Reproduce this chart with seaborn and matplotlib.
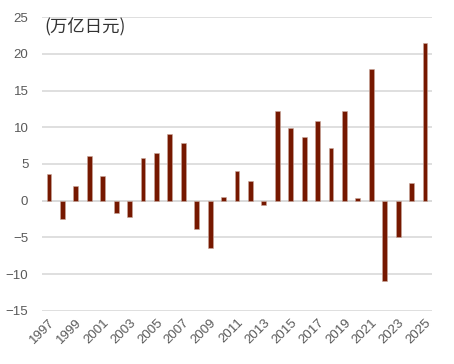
import pandas as pd
import matplotlib
matplotlib.use("Agg")
import matplotlib.pyplot as plt
import seaborn as sns

# Data (万亿日元)
years = list(range(1997, 2026))
values = [3.7, -2.5, 2.0, 6.1, 3.4, -1.7, -2.2, 5.8, 6.5, 9.1, 7.9, -3.8, -6.4, 0.5,
          4.0, 2.7, -0.6, 12.2, 9.9, 8.7, 10.8, 7.2, 12.2, 0.3, 18.0, -10.9, -5.0, 2.4, 21.5]
unit_label = "(万亿日元)"

df = pd.DataFrame({"year": [str(y) for y in years], "value": values})

sns.set_style("white")
plt.rcParams['font.family'] = ['Noto Sans CJK SC', 'DejaVu Sans']

fig = plt.figure(figsize=(4.54, 3.64), dpi=100)
ax = fig.add_axes([0.093, 0.146, 0.858, 0.807])

sns.barplot(data=df, x="year", y="value", color="#761800", width=0.36,
            saturation=1, ax=ax, edgecolor="#c9a89c", linewidth=0.4)

ax.set_ylim(-15, 25)
ax.set_xlim(-0.5, len(years) - 0.5)
ax.set_yticks(range(-15, 26, 5))
ax.yaxis.grid(True, color="#d9d9d9", linewidth=1.2)
ax.set_axisbelow(True)
ax.axhline(0, color="#d9d9d9", linewidth=1.2, zorder=0)

ax.set_xticks(range(0, len(years), 2))
ax.set_xticklabels([str(y) for y in years[::2]], rotation=45, ha="right",
                   rotation_mode="anchor", fontsize=9.5, color="#595959",
                   family=['Liberation Sans', 'DejaVu Sans'])
for lab in ax.get_yticklabels():
    lab.set_fontsize(9.5)
    lab.set_color("#595959")
    lab.set_family(['Liberation Sans', 'DejaVu Sans'])
ax.tick_params(axis="x", length=0, pad=4)
ax.tick_params(axis="y", length=0, pad=10)

ax.set_xlabel("")
ax.set_ylabel("")
sns.despine(ax=ax, left=True, bottom=True)

ax.text(0.005, 0.995, unit_label, transform=ax.transAxes, fontsize=12.5,
        color="#333333", va="top", ha="left")

fig.savefig("out.png", dpi=100)
